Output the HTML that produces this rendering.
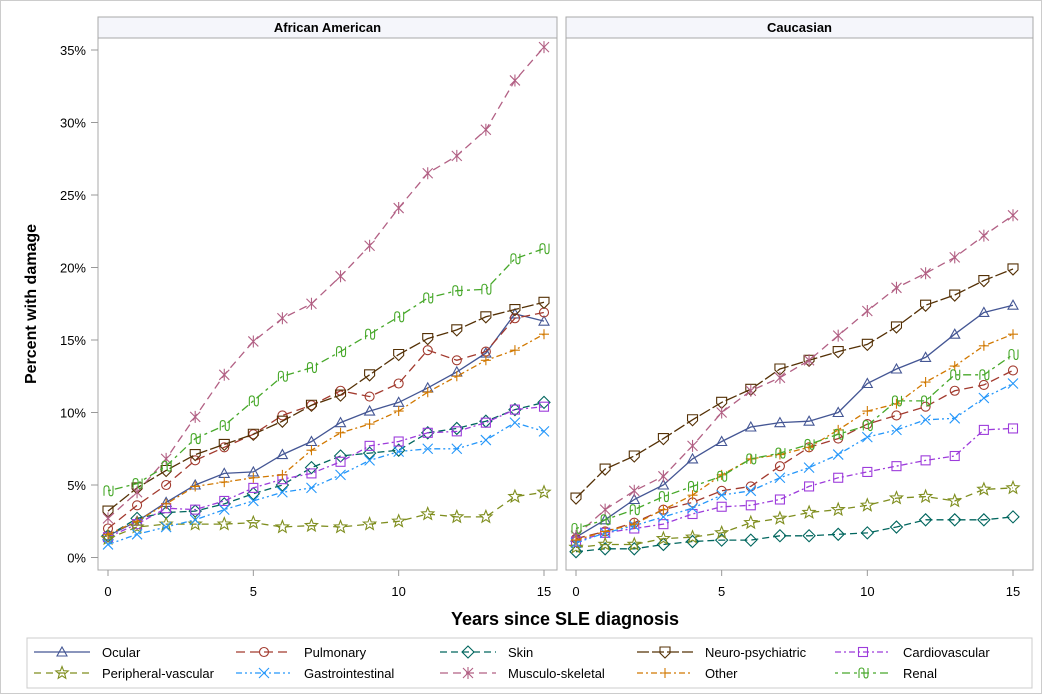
<!DOCTYPE html>
<html><head><meta charset="utf-8"><style>
body{margin:0;background:#fff;font-family:"Liberation Sans",Arial,sans-serif}
svg text{font-family:"Liberation Sans",Arial,sans-serif}
</style></head><body>
<svg id="c" width="1042" height="694"></svg>
<script>
const years=[0,1,2,3,4,5,6,7,8,9,10,11,12,13,14,15];
const groups=["African American","Caucasian"];
const seriesNames=["Ocular","Pulmonary","Skin","Neuro-psychiatric","Cardiovascular","Peripheral-vascular","Gastrointestinal","Musculo-skeletal","Other","Renal"];
const aaOcular=[1.5,2.5,3.8,5.0,5.8,5.9,7.1,8.0,9.3,10.1,10.7,11.7,12.8,14.1,16.8,16.3];
const aaPulmonary=[2.0,3.6,5.0,6.7,7.6,8.5,9.8,10.5,11.5,11.1,12.0,14.3,13.6,14.2,16.5,16.9];
const aaSkin=[1.5,2.7,3.1,3.2,3.7,4.4,5.0,6.2,7.0,7.2,7.4,8.6,8.9,9.4,10.2,10.7];
const aaNeuro=[3.2,4.8,6.0,7.1,7.8,8.5,9.4,10.5,11.2,12.6,14.0,15.1,15.7,16.6,17.1,17.6];
const aaCardio=[1.4,2.3,3.4,3.3,3.9,4.8,5.4,5.8,6.6,7.7,8.0,8.6,8.7,9.3,10.2,10.4];
const aaPeripheral=[1.3,2.1,2.3,2.3,2.3,2.4,2.1,2.2,2.1,2.3,2.5,3.0,2.8,2.8,4.2,4.5];
const aaGI=[0.9,1.6,2.1,2.6,3.3,3.9,4.5,4.8,5.7,6.7,7.3,7.5,7.5,8.1,9.3,8.7];
const aaMSK=[2.7,4.5,6.8,9.7,12.6,14.9,16.5,17.5,19.4,21.5,24.1,26.5,27.7,29.5,32.9,35.2];
const aaOther=[1.6,2.5,3.7,4.9,5.2,5.5,5.7,7.4,8.6,9.2,10.1,11.4,12.5,13.6,14.3,15.4];
const aaRenal=[4.6,5.1,6.3,8.2,9.1,10.8,12.5,13.1,14.2,15.4,16.6,17.9,18.4,18.5,20.6,21.3];
const caOcular=[1.4,2.6,4.0,5.0,6.8,8.0,9.0,9.3,9.4,10.0,12.0,13.0,13.8,15.4,16.9,17.4];
const caPulmonary=[1.3,1.8,2.4,3.3,3.8,4.6,4.9,6.3,7.6,8.2,9.2,9.8,10.4,11.5,11.9,12.9];
const caSkin=[0.4,0.6,0.6,0.9,1.1,1.2,1.2,1.5,1.5,1.6,1.7,2.1,2.6,2.6,2.6,2.8];
const caNeuro=[4.1,6.1,7.0,8.2,9.5,10.7,11.6,13.0,13.6,14.2,14.7,15.9,17.4,18.1,19.1,19.9];
const caCardio=[1.1,1.7,2.0,2.3,3.0,3.5,3.6,4.0,4.9,5.5,5.9,6.3,6.7,7.0,8.8,8.9];
const caPeripheral=[0.7,0.9,0.9,1.3,1.4,1.7,2.4,2.7,3.1,3.3,3.6,4.1,4.2,3.9,4.7,4.8];
const caGI=[1.0,1.7,2.2,2.8,3.4,4.3,4.6,5.5,6.2,7.1,8.3,8.8,9.5,9.6,11.0,12.0];
const caMSK=[1.5,3.3,4.6,5.6,7.7,10.0,11.5,12.4,13.6,15.3,17.0,18.6,19.6,20.7,22.2,23.6];
const caOther=[1.2,1.8,2.3,3.3,4.3,5.7,6.8,7.1,7.6,8.8,10.1,10.6,12.1,13.2,14.6,15.4];
const caRenal=[2.0,2.6,3.3,4.2,4.9,5.6,6.8,7.2,7.8,8.5,9.1,10.8,10.8,12.6,12.6,14.0];
const yTicks=[0,5,10,15,20,25,30,35];
const yTickLabels=["0%","5%","10%","15%","20%","25%","30%","35%"];
const xTicks=[0,5,10,15];

const aaData=[aaOcular,aaPulmonary,aaSkin,aaNeuro,aaCardio,aaPeripheral,aaGI,aaMSK,aaOther,aaRenal];
const caData=[caOcular,caPulmonary,caSkin,caNeuro,caCardio,caPeripheral,caGI,caMSK,caOther,caRenal];
const colors=["#445694","#A23A2E","#01665E","#543005","#9D3CDB","#7F8E1F","#2597FA","#B26084","#D17800","#47A82A"];
const dashes=["","9,5","7,4","12,3","6,3,2,3","7,5","6,3,2,3,2,3","8,5","6,3,2,3","3,4,8,4"];
const markers=["tri","circ","diam","shield","sq","star","x","ast","plus","renal"];

const NS="http://www.w3.org/2000/svg";
const svg=document.getElementById('c');
function el(t,a,p){const e=document.createElementNS(NS,t);for(const k in a)e.setAttribute(k,a[k]);(p||svg).appendChild(e);return e;}
const yScale=v=>557.5-v*14.5;
const panels=[{x0:98,x1:557,px0:108,px1:544},{x0:566,x1:1033,px0:576,px1:1013}];
const plotTop=38,plotBottom=570;

let frame=el('rect',{x:0.5,y:0.5,width:1041,height:693,fill:'#fff',stroke:'#ccc'});



function marker(g,type,x,y,c){
  const s=5;let m;
  const a={fill:'none',stroke:c,'stroke-width':1.1};
  if(type==='tri')m=el('path',Object.assign({d:`M${x},${y-s} L${x+s},${y+s*0.8} L${x-s},${y+s*0.8}Z`},a),g);
  else if(type==='circ')m=el('circle',Object.assign({cx:x,cy:y,r:4.5},a),g);
  else if(type==='diam')m=el('path',Object.assign({d:`M${x},${y-s-1} L${x+s+1},${y} L${x},${y+s+1} L${x-s-1},${y}Z`},a),g);
  else if(type==='shield')m=el('path',Object.assign({d:`M${x-s},${y-s} L${x+s},${y-s} L${x+s},${y+1} L${x},${y+s+1} L${x-s},${y+1}Z`},a),g);
  else if(type==='sq')m=el('rect',Object.assign({x:x-4.5,y:y-4.5,width:9,height:9},a),g);
  else if(type==='star'){let d='';for(let i=0;i<10;i++){const r=i%2?2.8:6.5,an=-Math.PI/2+i*Math.PI/5;d+=(i?'L':'M')+(x+r*Math.cos(an)).toFixed(1)+','+(y+r*Math.sin(an)).toFixed(1);}m=el('path',Object.assign({d:d+'Z'},a),g);}
  else if(type==='x')m=el('path',Object.assign({d:`M${x-s},${y-s}L${x+s},${y+s}M${x-s},${y+s}L${x+s},${y-s}`},a),g);
  else if(type==='ast')m=el('path',Object.assign({d:`M${x-s},${y-s}L${x+s},${y+s}M${x-s},${y+s}L${x+s},${y-s}M${x},${y-s-1}L${x},${y+s+1}`},a),g);
  else if(type==='plus')m=el('path',Object.assign({d:`M${x-s},${y}L${x+s},${y}M${x},${y-s}L${x},${y+s}`},a),g);
  else m=el('path',Object.assign({d:`M${x-4},${y+5}L${x-4},${y-2}Q${x-4},${y-5} ${x-1.5},${y-5}Q${x+1},${y-5} ${x+1},${y-2}L${x+1},${y+2}Q${x+1},${y+5} ${x+3},${y+5}Q${x+5},${y+5} ${x+5},${y+2}L${x+5},${y-5}`},a),g);
  return m;
}

panels.forEach((p,pi)=>{
  const g=el('g',{});
  
  
  const hdr=el('rect',{x:p.x0,y:17,width:p.x1-p.x0,height:plotTop-17,fill:'#f5f6fb',stroke:'#a8a8a8'},g);
  
  
  const ht=el('text',{x:(p.x0+p.x1)/2,y:32,'text-anchor':'middle','font-size':13,'font-weight':'bold',fill:'#000'},g);
  ht.textContent=groups[pi];
  
  
  const box=el('rect',{x:p.x0,y:plotTop,width:p.x1-p.x0,height:plotBottom-plotTop,fill:'none',stroke:'#a8a8a8'},g);
  
  
  const xs=v=>p.px0+(p.px1-p.px0)*v/15;
  xTicks.forEach(t=>{
    el('line',{x1:xs(t),x2:xs(t),y1:plotBottom,y2:plotBottom+6,stroke:'#999'},g);
    const tx=el('text',{x:xs(t),y:596,'text-anchor':'middle','font-size':13,fill:'#000'},g);
    tx.textContent=t;
    
    
  });
  const data=pi?caData:aaData;
  data.forEach((arr,si)=>{
    const sg=el('g',{},g);
    
    
    const pts=arr.map((v,i)=>xs(years[i]).toFixed(1)+','+yScale(v).toFixed(1)).join(' ');
    const a={points:pts,fill:'none',stroke:colors[si],'stroke-width':1.3};
    if(dashes[si])a['stroke-dasharray']=dashes[si];
    el('polyline',a,sg);
    arr.forEach((v,i)=>marker(sg,markers[si],xs(years[i]),yScale(v),colors[si]));
  });
});
yTicks.forEach((t,i)=>{
  el('line',{x1:91,x2:98,y1:yScale(t),y2:yScale(t),stroke:'#999'});
  const tx=el('text',{x:86,y:yScale(t)+5,'text-anchor':'end','font-size':13,fill:'#000'});
  tx.textContent=yTickLabels[i];
  
  
});
const yt=el('text',{x:0,y:0,transform:'translate(36,304) rotate(-90)','text-anchor':'middle','font-size':16,'font-weight':'bold',fill:'#000'});
yt.textContent='Percent with damage';


const xt=el('text',{x:565,y:625,'text-anchor':'middle','font-size':18,'font-weight':'bold',fill:'#000'});
xt.textContent='Years since SLE diagnosis';



const lg=el('g',{});


el('rect',{x:27,y:638,width:1005,height:50,fill:'#fff',stroke:'#ccc'},lg);
const colX=[34,236,440,637,835];
seriesNames.forEach((nm,si)=>{
  const row=Math.floor(si/5),col=si%5;
  const x=colX[col],y=652+row*21;
  const eg=el('g',{},lg);
  
  
  const a={x1:x,x2:x+56,y1:y,y2:y,stroke:colors[si],'stroke-width':1.3};
  if(dashes[si])a['stroke-dasharray']=dashes[si];
  el('line',a,eg);
  marker(eg,markers[si],x+28,y,colors[si]);
  const t=el('text',{x:x+68,y:y+5,'font-size':13,fill:'#000'},eg);
  t.textContent=nm;
});
</script>
</body></html>
